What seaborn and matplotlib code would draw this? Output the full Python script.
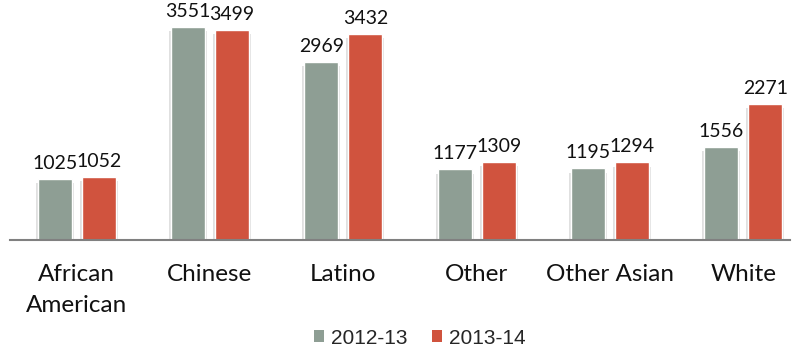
import matplotlib
matplotlib.use("Agg")
import matplotlib.pyplot as plt
import matplotlib.patheffects as pe
from matplotlib.patches import Patch
import seaborn as sns
import pandas as pd

categories = ["African\nAmerican", "Chinese", "Latino", "Other", "Other Asian", "White"]
years = ["2012-13", "2013-14"]
values_2012 = [1025, 3551, 2969, 1177, 1195, 1556]
values_2013 = [1052, 3499, 3432, 1309, 1294, 2271]
colors = ["#8E9E94", "#D0533E"]

df = pd.DataFrame({
    "group": categories * 2,
    "year": [years[0]] * len(categories) + [years[1]] * len(categories),
    "count": values_2012 + values_2013,
})

sns.set_theme(style="white")
plt.rcParams["font.family"] = ["Lato", "DejaVu Sans"]

fig = plt.figure(figsize=(8.01, 3.48), dpi=100)
ax = fig.add_axes([10 / 801, 108 / 348, 780 / 801, 232 / 348])

sns.barplot(data=df, x="group", y="count", hue="year", palette=colors,
            saturation=1, width=0.66, gap=0.23, ax=ax, legend=False,
            edgecolor="white", linewidth=1.0)

# soft drop shadow around the base and sides of each bar
shadow = [pe.SimplePatchShadow(offset=(-1.5, -3), shadow_rgbFace="#000000", alpha=0.12),
          pe.SimplePatchShadow(offset=(1.5, -3), shadow_rgbFace="#000000", alpha=0.12),
          pe.Normal()]
for bar in ax.patches:
    bar.set_path_effects(shadow)

for container in ax.containers:
    ax.bar_label(container, fmt="%d", padding=5, fontsize=14, color="#111111")

ax.set_ylim(0, 3870)
ax.set_xlim(-0.5, 5.35)
ax.set_xlabel("")
ax.set_ylabel("")
ax.set_yticks([])
for side in ["top", "right", "left"]:
    ax.spines[side].set_visible(False)
ax.spines["bottom"].set_color("#808080")
ax.spines["bottom"].set_linewidth(1.5)
ax.tick_params(axis="x", length=0, pad=17, labelsize=17.5, labelcolor="#111111")
for lbl in ax.get_xticklabels():
    lbl.set_linespacing(1.6)

handles = [Patch(facecolor=c, edgecolor="none") for c in colors]
fig.legend(handles, years, loc="center", bbox_to_anchor=(420 / 801, 1 - 338 / 348),
           ncol=2, frameon=False, handlelength=0.45, handleheight=0.45,
           handletextpad=0.35, columnspacing=1.2,
           prop={"family": "Liberation Sans", "size": 15})

fig.savefig("out.png", dpi=100)
